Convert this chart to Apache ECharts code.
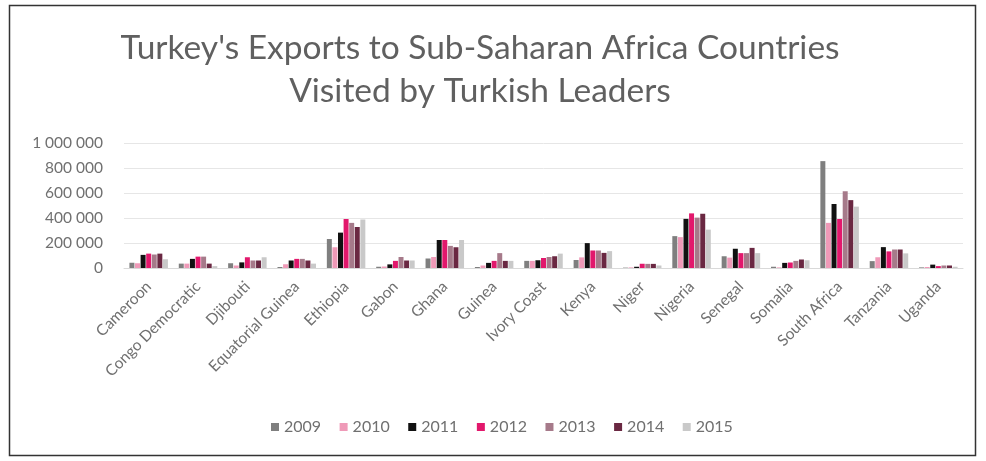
<!DOCTYPE html>
<html><head><meta charset="utf-8">
<script src="https://cdn.jsdelivr.net/npm/echarts@6/dist/echarts.min.js"></script>
<style>html,body{margin:0;padding:0;background:#fff}#c{width:986px;height:461px}</style>
</head><body><div id="c"></div>
<script>
const categories = ["Cameroon","Congo Democratic","Djibouti","Equatorial Guinea","Ethiopia","Gabon","Ghana","Guinea","Ivory Coast","Kenya","Niger","Nigeria","Senegal","Somalia","South Africa","Tanzania","Uganda"];
const years = ["2009","2010","2011","2012","2013","2014","2015"];
const v2009 = [42000,35000,38000,8000,232000,10000,76000,8000,57000,64000,3000,255000,94000,10000,855000,55000,5000];
const v2010 = [38000,35000,20000,30000,166000,12000,88000,20000,57000,85000,5000,247000,83000,5000,361000,86000,8000];
const v2011 = [105000,73000,45000,60000,283000,29000,224000,41000,62000,199000,10000,393000,154000,41000,512000,167000,27000];
const v2012 = [115000,91000,86000,73000,392000,57000,224000,57000,80000,140000,34000,437000,119000,44000,392000,133000,15000];
const v2013 = [108000,91000,60000,73000,361000,88000,177000,119000,88000,140000,33000,403000,119000,57000,614000,148000,20000];
const v2014 = [115000,35000,60000,60000,328000,60000,166000,57000,94000,121000,33000,434000,161000,68000,543000,148000,20000];
const v2015 = [70000,15000,86000,35000,388000,60000,224000,57000,115000,135000,20000,307000,119000,62000,491000,117000,10000];
const yTicks = [0,200000,400000,600000,800000,1000000];
const colors = ["#7f7f7f","#ef9ab8","#111111","#e2186c","#a67a8a","#6a2842","#c9c9c9"];
const seriesValues = [v2009,v2010,v2011,v2012,v2013,v2014,v2015];

const fmt = v => String(v).replace(/\B(?=(\d{3})+(?!\d))/g, " ");
const chart = echarts.init(document.getElementById('c'));
chart.setOption({
  backgroundColor: '#fff',
  animation: false,
  textStyle: {fontFamily: 'Lato, "Open Sans", sans-serif'},
  title: {
    text: "Turkey's Exports to Sub-Saharan Africa Countries\nVisited by Turkish Leaders",
    left: 475, top: 22, textAlign: 'center',
    textStyle: {fontSize: 33.5, fontWeight: 'normal', color: '#606060', lineHeight: 43, fontFamily: 'Lato, "Open Sans", sans-serif'}
  },
  graphic: [{type: 'rect', shape: {x: 9.5, y: 5.5, width: 966, height: 450}, style: {fill: 'none', stroke: '#333', lineWidth: 1.5}, silent: true}],
  legend: {
    data: years, top: 414, left: 266, itemWidth: 8, itemHeight: 8, itemGap: 18.5, icon: 'rect',
    textStyle: {color: '#707070', fontSize: 16}
  },
  grid: {left: 124, right: 23, top: 143, bottom: 193, containLabel: false},
  xAxis: {
    type: 'category', data: categories,
    axisTick: {show: false},
    axisLine: {lineStyle: {color: '#d9d9d9'}},
    axisLabel: {rotate: 45, color: '#707070', fontSize: 15.5, interval: 0, margin: 16}
  },
  yAxis: {
    type: 'value', min: 0, max: 1000000, interval: 200000,
    axisLine: {show: false}, axisTick: {show: false},
    splitLine: {lineStyle: {color: '#e6e6e6'}},
    axisLabel: {color: '#707070', fontSize: 15.5, margin: 21, formatter: v => yTicks.includes(v) ? fmt(v) : ''}
  },
  series: years.map((y, i) => ({
    name: y, type: 'bar', data: seriesValues[i],
    itemStyle: {color: colors[i]},
    barGap: '12%', barCategoryGap: '22%'
  }))
});
</script></body></html>
